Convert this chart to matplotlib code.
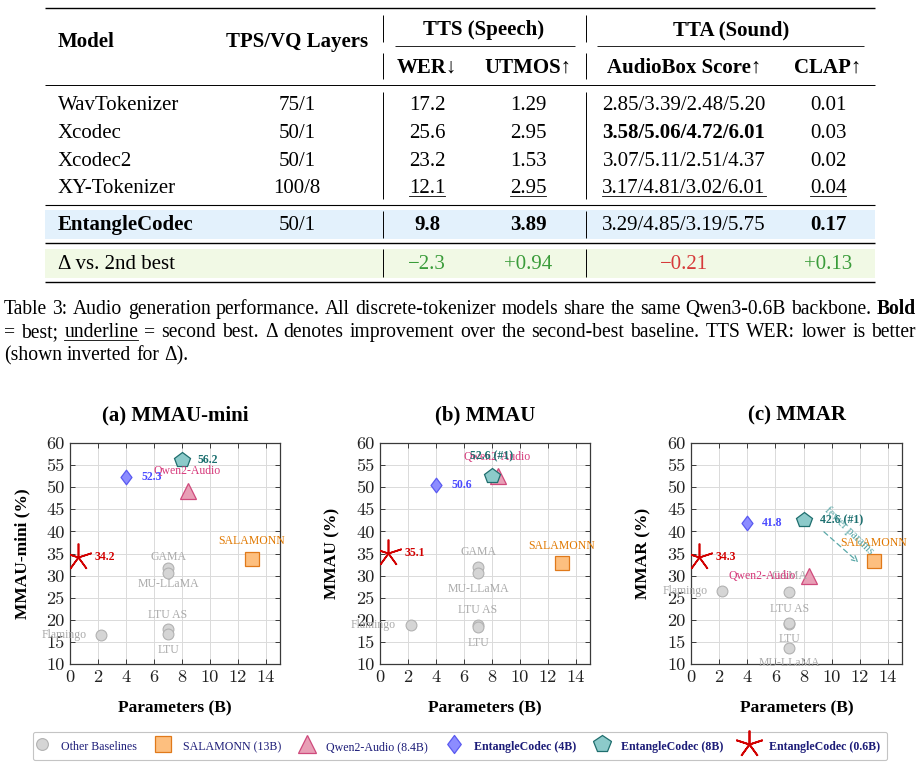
import matplotlib
matplotlib.use('Agg')
import matplotlib.pyplot as plt
from matplotlib.lines import Line2D
from matplotlib.patches import Rectangle
from matplotlib.path import Path

# ---------------------------------------------------------------- data
# Table
group_headers = ['TTS (Speech)', 'TTA (Sound)']
col_headers = ['WER↓', 'UTMOS↑', 'AudioBox Score↑', 'CLAP↑']
models = ['WavTokenizer', 'Xcodec', 'Xcodec2', 'XY-Tokenizer']
tps = ['75/1', '50/1', '50/1', '100/8']
wer = ['17.2', '25.6', '23.2', '12.1']
utmos = ['1.29', '2.95', '1.53', '2.95']
audiobox = ['2.85/3.39/2.48/5.20', '3.58/5.06/4.72/6.01',
            '3.07/5.11/2.51/4.37', '3.17/4.81/3.02/6.01']
clap = ['0.01', '0.03', '0.02', '0.04']
ours_row = ['EntangleCodec', '50/1', '9.8', '3.89', '3.29/4.85/3.19/5.75', '0.17']
delta_label = 'Δ vs. 2nd best'
delta_vals = ['−2.3', '+0.94', '−0.21', '+0.13']
delta_good = [True, True, False, True]

# Scatter panels
other_names = ['Flamingo', 'GAMA', 'MU-LLaMA', 'LTU AS', 'LTU']
other_params = [2.2, 7.0, 7.0, 7.0, 7.0]
other_mmau_mini = [16.6, 31.8, 30.7, 17.9, 16.9]
other_mmau = [18.8, 31.9, 30.6, 18.9, 18.3]
other_mmar = [26.6, 26.3, 13.6, 19.0, 19.2]

qwen_param = 8.4
qwen_scores = [49.2, 52.5, 30.0]
salmonn_param = 13.0
salmonn_scores = [33.7, 32.8, 33.2]

ours_params = [0.6, 4.0, 8.0]
ours_mmau_mini = [34.2, 52.3, 56.2]
ours_mmau = [35.1, 50.6, 52.6]
ours_mmar = [34.3, 41.8, 42.6]
ours_suffix = [['', '', ''], ['', '', ' (#1)'], ['', '', ' (#1)']]

titles = ['(a) MMAU-mini', '(b) MMAU', '(c) MMAR']
ylabels = ['MMAU-mini (%)', 'MMAU (%)', 'MMAR (%)']
legend_labels = ['Other Baselines', 'SALAMONN (13B)', 'Qwen2-Audio (8.4B)',
                 'EntangleCodec (4B)', 'EntangleCodec (8B)', 'EntangleCodec (0.6B)']

caption_l1 = 'Table 3: Audio generation performance. All discrete-tokenizer models share the same Qwen3-0.6B backbone.'
caption_l2a = '= best;'
caption_l2b = 'underline'
caption_l2c = '= second best. Δ denotes improvement over the second-best baseline. TTS WER: lower is better'
caption_l3 = '(shown inverted for Δ).'

# ---------------------------------------------------------------- setup
W, H = 921, 769
fig = plt.figure(figsize=(W / 100, H / 100), dpi=100)
SERIF = ['Liberation Serif', 'DejaVu Serif']
R = fig.canvas.get_renderer()


def fx(x):
    return x / W


def fy(y):
    return 1 - y / H


def hline(x0, x1, y, lw, color='black'):
    fig.add_artist(Line2D([fx(x0), fx(x1)], [fy(y), fy(y)], lw=lw, color=color,
                          transform=fig.transFigure, solid_capstyle='butt'))


def vline(x, y0, y1, lw=0.6, color='black'):
    fig.add_artist(Line2D([fx(x), fx(x)], [fy(y0), fy(y1)], lw=lw, color=color,
                          transform=fig.transFigure, solid_capstyle='butt'))


def ptext(x, y, s, ha='left', size=15, weight='normal', color='black', ul=False):
    t = fig.text(fx(x), fy(y), s, ha=ha, va='baseline', fontsize=size,
                 family=SERIF, weight=weight, color=color)
    if ul:
        bb = t.get_window_extent(R)
        fig.add_artist(Line2D([bb.x0 / W, bb.x1 / W], [fy(y + 3)] * 2, lw=0.6,
                              color='black', transform=fig.transFigure))
    return t


# ---------------------------------------------------------------- table
TL, TR = 45, 875
fig.add_artist(Rectangle((fx(TL), fy(238.5)), fx(TR) - fx(TL), (238.5 - 210.5) / H,
                         transform=fig.transFigure, color='#e3f1fc', lw=0, zorder=0))
fig.add_artist(Rectangle((fx(TL), fy(277.5)), fx(TR) - fx(TL), (277.5 - 249) / H,
                         transform=fig.transFigure, color='#f1f9e5', lw=0, zorder=0))

hline(TL, TR, 7.5, 1.0)
hline(395, 575, 46, 0.6)
hline(597, 864, 46, 0.6)
hline(TL, TR, 84.5, 0.7)
hline(TL, TR, 204.5, 0.8)
hline(TL, TR, 242.5, 1.0)
hline(TL, TR, 282, 1.0)
for xv in (383, 586):
    for (a, b) in [(15, 42), (53, 79), (92, 199), (211, 238), (249, 277)]:
        vline(xv, a, b, lw=0.7)

col_x = [427, 528, 684, 828]
ptext(58, 47, 'Model', weight='bold')
ptext(297, 47, 'TPS/VQ Layers', ha='center', weight='bold')
ptext(484, 35, group_headers[0], ha='center', weight='bold')
ptext(731, 35, group_headers[1], ha='center', weight='bold')
for cx, h in zip(col_x, col_headers):
    ptext(cx, 73, h, ha='center', weight='bold')

row_y = [110.5, 138, 165.5, 193]
for i, y in enumerate(row_y):
    ul = (models[i] == 'XY-Tokenizer')
    ptext(58, y, models[i])
    ptext(297, y, tps[i], ha='center')
    ptext(col_x[0], y, wer[i], ha='center', ul=ul)
    ptext(col_x[1], y, utmos[i], ha='center', ul=ul)
    ptext(col_x[2], y, audiobox[i], ha='center', ul=ul,
          weight='bold' if models[i] == 'Xcodec' else 'normal')
    ptext(col_x[3], y, clap[i], ha='center', ul=ul)

yb = 230
ptext(58, yb, ours_row[0], weight='bold')
ptext(297, yb, ours_row[1], ha='center')
ptext(col_x[0], yb, ours_row[2], ha='center', weight='bold')
ptext(col_x[1], yb, ours_row[3], ha='center', weight='bold')
ptext(col_x[2], yb, ours_row[4], ha='center')
ptext(col_x[3], yb, ours_row[5], ha='center', weight='bold')

yg = 269
ptext(58, yg, delta_label)
for cx, v, good in zip(col_x, delta_vals, delta_good):
    ptext(cx, yg, v, ha='center', color='#3a9c3a' if good else '#d63a3a')


# ---------------------------------------------------------------- caption
def split_words(pieces):
    words = []
    for txt, wt, ul in pieces:
        for w in txt.split(' '):
            if w:
                words.append((w, wt, ul))
    return words


def natural_width(pieces, size):
    words = split_words(pieces)
    tot = 0
    for w, wt, ul in words:
        t = fig.text(0, 0, w, fontsize=size, family=SERIF, weight=wt)
        tot += t.get_window_extent(R).width
        t.remove()
    return tot + (len(words) - 1) * size * 100 / 72 * 0.25


def line_words(pieces, y, x0, x1, size, justify=True):
    words = split_words(pieces)
    arts = []
    total = 0
    for w, wt, ul in words:
        t = fig.text(0, fy(y), w, fontsize=size, family=SERIF, weight=wt,
                     va='baseline', ha='left')
        wd = t.get_window_extent(R).width
        arts.append((t, wd, ul))
        total += wd
    space = size * 100 / 72 * 0.25
    gap = (x1 - x0 - total) / (len(arts) - 1) if justify else space
    x = x0
    for t, wd, ul in arts:
        t.set_x(fx(x))
        if ul:
            fig.add_artist(Line2D([fx(x), fx(x + wd)], [fy(y + 3)] * 2, lw=0.6,
                                  color='black', transform=fig.transFigure))
        x += wd + gap


L1 = [(caption_l1, 'normal', False), ('Bold', 'bold', False)]
L2 = [(caption_l2a, 'normal', False), (caption_l2b, 'normal', True),
      (caption_l2c, 'normal', False)]
L3 = [(caption_l3, 'normal', False)]
CX0, CX1 = 4, 916
base = 13.0
CAP = min(base * (CX1 - CX0) / natural_width(L1, base),
          base * (CX1 - CX0) / natural_width(L2, base)) * 0.995
line_words(L1, 314, CX0, CX1, CAP)
line_words(L2, 337, CX0, CX1, CAP)
line_words(L3, 360, CX0, CX1, CAP, justify=False)

# ---------------------------------------------------------------- scatter panels
GRAY_F, GRAY_E, GRAY_T = '#d5d5d5', '#b2b2b2', '#a9a9a9'
SAL_F, SAL_E, SAL_T = '#fdbf7f', '#e0791a', '#e07800'
QW_F, QW_E, QW_T = '#e89fb6', '#cf4a7c', '#d6387a'
DI_F, DI_E, DI_T = '#8c8cff', '#5a5af0', '#4a4aff'
PE_F, PE_E, PE_T = '#8ccaca', '#1f6e6e', '#1a6e6e'
ST_C = '#d20000'
diamond = Path([(0, 1), (0.75, 0), (0, -1), (-0.75, 0), (0, 1)],
               [Path.MOVETO, Path.LINETO, Path.LINETO, Path.LINETO, Path.CLOSEPOLY])
STAR = (5, 2, 0)

axes_px = [(70, 280), (380, 590), (691, 902)]
AX_TOP, AX_BOT = 443, 664
others_all = [other_mmau_mini, other_mmau, other_mmar]
ours_all = [ours_mmau_mini, ours_mmau, ours_mmar]

# label offsets (pixels) per panel: (dx, dy, ha)
other_off = [
    {'Flamingo': (-14, 0, 'right'), 'GAMA': (0, 11, 'center'), 'MU-LLaMA': (0, -11.5, 'center'),
     'LTU AS': (0, 14.5, 'center'), 'LTU': (0, -16, 'center')},
    {'Flamingo': (-15, 0, 'right'), 'GAMA': (0, 15, 'center'), 'MU-LLaMA': (0, -16, 'center'),
     'LTU AS': (0, 14.5, 'center'), 'LTU': (0, -15.5, 'center')},
    {'Flamingo': (-14, 0, 'right'), 'GAMA': (0, 16, 'center'), 'MU-LLaMA': (0, -15, 'center'),
     'LTU AS': (0, 15, 'center'), 'LTU': (0, -16, 'center')},
]
qwen_off = [(0, 19.5, 'center'), (0, 19, 'center'), (-13, 0, 'right')]
sal_off = [(0, 18, 'center'), (0, 17, 'center'), (0, 18, 'center')]
pent_off = [(15, 0, 'left'), (0, 19, 'center'), (16, 0, 'left')]

LBL = 8.5
for k in range(3):
    l, r = axes_px[k]
    ax = fig.add_axes([fx(l), fy(AX_BOT), (r - l) / W, (AX_BOT - AX_TOP) / H])
    ax.set_xlim(0, 15)
    ax.set_ylim(10, 60)
    ax.set_xticks(range(0, 15, 2))
    ax.set_yticks(range(10, 61, 5))
    ax.grid(True, color='#dadada', lw=0.7)
    ax.set_axisbelow(True)
    for s in ax.spines.values():
        s.set_color('#3a3a3a')
        s.set_linewidth(0.9)
    ax.tick_params(direction='in', top=True, right=True, length=3.5, width=0.7,
                   color='#3a3a3a', labelsize=13.2, pad=4)
    for lab in ax.get_xticklabels() + ax.get_yticklabels():
        lab.set_family(['cmr10', 'DejaVu Serif'])
        lab.set_color('#222222')

    def ann(x, y, s, off, color, weight='normal'):
        dx, dy, ha = off
        ax.annotate(s, (x, y), xytext=(dx, dy), textcoords='offset pixels',
                    ha=ha, va='center', fontsize=LBL, family=SERIF, color=color,
                    weight=weight, zorder=6)

    # other baselines
    ys = others_all[k]
    ax.plot(other_params, ys, ls='', marker='o', ms=7.8, mfc=GRAY_F, mec=GRAY_E,
            mew=0.8, zorder=3)
    for n, xp, yv in zip(other_names, other_params, ys):
        ann(xp, yv, n, other_off[k][n], GRAY_T)

    # SALAMONN
    ax.plot([salmonn_param], [salmonn_scores[k]], ls='', marker='s', ms=10,
            mfc=SAL_F, mec=SAL_E, mew=0.9, zorder=4)
    ann(salmonn_param, salmonn_scores[k], 'SALAMONN', sal_off[k], SAL_T)

    # Qwen2-Audio
    ax.plot([qwen_param], [qwen_scores[k]], ls='', marker='^', ms=11.5,
            mfc=QW_F, mec=QW_E, mew=0.9, zorder=4)
    ann(qwen_param, qwen_scores[k], 'Qwen2-Audio', qwen_off[k], QW_T)

    # ours
    o = ours_all[k]
    sfx = ours_suffix[k]
    ax.plot([ours_params[1]], [o[1]], ls='', marker=diamond, ms=10.5,
            mfc=DI_F, mec=DI_E, mew=0.9, zorder=5)
    ann(ours_params[1], o[1], f'{o[1]:.1f}{sfx[1]}', (15, 0, 'left'), DI_T, 'bold')
    ax.plot([ours_params[2]], [o[2]], ls='', marker='p', ms=11.5,
            mfc=PE_F, mec=PE_E, mew=0.9, zorder=5)
    ann(ours_params[2], o[2], f'{o[2]:.1f}{sfx[2]}', pent_off[k], PE_T, 'bold')
    ax.plot([ours_params[0]], [o[0]], ls='', marker=STAR, ms=20,
            mec=ST_C, mew=1.2, zorder=5)
    ann(ours_params[0], o[0], f'{o[0]:.1f}{sfx[0]}', (16, 0, 'left'), ST_C, 'bold')

    if k == 2:
        ax.annotate('', xy=(11.9, 33.0), xytext=(9.45, 39.9),
                    arrowprops=dict(arrowstyle='->', color='#5aa8a8', lw=0.9,
                                    linestyle=(0, (4, 3)), shrinkA=0, shrinkB=0),
                    zorder=6)
        ax.text(11.2, 40.2, 'fewer params', rotation=-44, ha='center', va='center',
                fontsize=LBL, family=SERIF, color='#5aa8a8', rotation_mode='anchor',
                zorder=6)

    cx = (l + r) / 2
    ptext(cx, 420, titles[k], ha='center', size=15, weight='bold')
    ptext(cx, 712, 'Parameters (B)', ha='center', size=12.5, weight='bold')
    fig.text(fx(l - 48), fy((AX_TOP + AX_BOT) / 2), ylabels[k], rotation=90,
             ha='center', va='center', fontsize=12.5, family=SERIF, weight='bold')

# ---------------------------------------------------------------- legend
handles = [
    Line2D([], [], ls='', marker='o', ms=8.5, mfc=GRAY_F, mec=GRAY_E, mew=0.8),
    Line2D([], [], ls='', marker='s', ms=11, mfc=SAL_F, mec=SAL_E, mew=0.9),
    Line2D([], [], ls='', marker='^', ms=12.5, mfc=QW_F, mec=QW_E, mew=0.9),
    Line2D([], [], ls='', marker=diamond, ms=13, mfc=DI_F, mec=DI_E, mew=0.9),
    Line2D([], [], ls='', marker='p', ms=13, mfc=PE_F, mec=PE_E, mew=0.9),
    Line2D([], [], ls='', marker=STAR, ms=20, mec=ST_C, mew=1.3),
]
leg = fig.legend(handles, legend_labels, loc='center', bbox_to_anchor=(fx(460), fy(746)),
                 ncol=6, prop={'family': SERIF, 'size': 8.6},
                 handlelength=0.3, handleheight=1.4, handletextpad=1.5,
                 columnspacing=2.0, borderpad=0.6, frameon=True, fancybox=True,
                 edgecolor='#c4c4c4', framealpha=1)
leg.get_frame().set_linewidth(0.8)
for i, t in enumerate(leg.get_texts()):
    t.set_color('#1c1c78')
    if i >= 3:
        t.set_weight('bold')

fig.savefig('out.png', dpi=100)
